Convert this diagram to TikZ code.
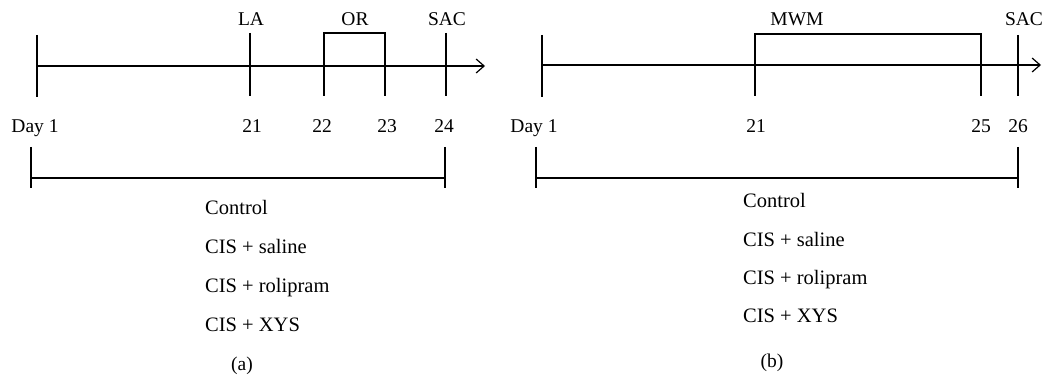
\documentclass[tikz,border=0pt]{standalone}
\usepackage{fontspec}
\setmainfont{Liberation Serif}
\usetikzlibrary{arrows.meta}
\begin{document}
\begin{tikzpicture}[x=1pt,y=-1pt,
  ln/.style={line width=1.2pt,black},
  lbl/.style={inner sep=0pt,anchor=base,font=\fontsize{19.5}{23}\selectfont},
  grp/.style={inner sep=0pt,anchor=base west,font=\fontsize{20.5}{24}\selectfont},
  axis/.style={ln,-{Straight Barb[length=8pt,width=14pt,line width=1.2pt]}}]
\useasboundingbox (0,0) rectangle (1044,377);
% ---------- panel (a) ----------
\coordinate (aS) at (37,66);
\coordinate (aE) at (485,66);
\draw[axis] (aS) -- (aE);
\coordinate (a1t) at (37,35);  \coordinate (a1b) at (37,97);
\coordinate (a21t) at (250,33); \coordinate (a21b) at (250,96);
\coordinate (a22t) at (324,33); \coordinate (a22b) at (324,96);
\coordinate (a23t) at (385,33); \coordinate (a23b) at (385,96);
\coordinate (a24t) at (446,33); \coordinate (a24b) at (446,96);
\draw[ln] (a1t) -- (a1b);
\draw[ln] (a21t) -- (a21b);
\draw[ln] (a22b) -- (a22t) -- (a23t) -- (a23b);
\draw[ln] (a24t) -- (a24b);
\node[lbl] (aLA) at (251,26) {LA};
\node[lbl] (aOR) at (355,26) {OR};
\node[lbl] (aSAC) at (447,26) {SAC};
\node[lbl] (aD1) at (35,132) {Day 1};
\node[lbl] (aD21) at (252,132) {21};
\node[lbl] (aD22) at (322,132) {22};
\node[lbl] (aD23) at (387,132) {23};
\node[lbl] (aD24) at (444,132) {24};
\coordinate (abLt) at (31,147); \coordinate (abLb) at (31,188);
\coordinate (abRt) at (445,147); \coordinate (abRb) at (445,188);
\coordinate (abL) at (31,178); \coordinate (abR) at (445,178);
\draw[ln] (abLt) -- (abLb);
\draw[ln] (abRt) -- (abRb);
\draw[ln] (abL) -- (abR);
\node[grp] (ag1) at (205,214) {Control};
\node[grp] (ag2) at (205,253) {CIS + saline};
\node[grp] (ag3) at (205,292) {CIS + rolipram};
\node[grp] (ag4) at (205,331) {CIS + XYS};
\node[lbl] (acap) at (242,370) {(a)};
% ---------- panel (b) ----------
\coordinate (bS) at (542,65);
\coordinate (bE) at (1041,65);
\draw[axis] (bS) -- (bE);
\coordinate (b1t) at (542,35);  \coordinate (b1b) at (542,97);
\coordinate (b21t) at (755,34); \coordinate (b21b) at (755,96);
\coordinate (b25t) at (981,34); \coordinate (b25b) at (981,96);
\coordinate (b26t) at (1018,35); \coordinate (b26b) at (1018,96);
\draw[ln] (b1t) -- (b1b);
\draw[ln] (b21b) -- (b21t) -- (b25t) -- (b25b);
\draw[ln] (b26t) -- (b26b);
\node[lbl] (bMWM) at (797,26) {MWM};
\node[lbl] (bSAC) at (1024,26) {SAC};
\node[lbl] (bD1) at (534,132) {Day 1};
\node[lbl] (bD21) at (756,132) {21};
\node[lbl] (bD25) at (981,132) {25};
\node[lbl] (bD26) at (1018,132) {26};
\coordinate (bbLt) at (536,147); \coordinate (bbLb) at (536,188);
\coordinate (bbRt) at (1018,147); \coordinate (bbRb) at (1018,188);
\coordinate (bbL) at (536,178); \coordinate (bbR) at (1018,178);
\draw[ln] (bbLt) -- (bbLb);
\draw[ln] (bbRt) -- (bbRb);
\draw[ln] (bbL) -- (bbR);
\node[grp] (bg1) at (743,207) {Control};
\node[grp] (bg2) at (743,246) {CIS + saline};
\node[grp] (bg3) at (743,284) {CIS + rolipram};
\node[grp] (bg4) at (743,322) {CIS + XYS};
\node[lbl] (bcap) at (772,367) {(b)};
\end{tikzpicture}
\end{document}
